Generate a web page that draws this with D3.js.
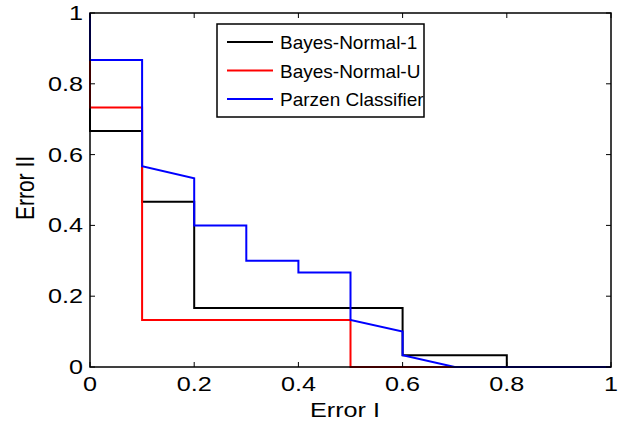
<!DOCTYPE html>
<html><head><meta charset="utf-8">
<script src="https://cdn.jsdelivr.net/npm/d3@7"></script>
<style>body{margin:0;background:#fff;} svg{display:block;font-family:"Liberation Sans",Arial,sans-serif;}</style>
</head><body>
<svg id="c" width="624" height="426"></svg>
<script>
const seriesNames = ["Bayes-Normal-1", "Bayes-Normal-U", "Parzen Classifier"];
const seriesColors = ["#000000", "#ff0000", "#0000ff"];
const bn1X = [0, 0, 0.1, 0.1, 0.2, 0.2, 0.6, 0.6, 0.8, 0.8, 1];
const bn1Y = [1, 0.667, 0.667, 0.467, 0.467, 0.167, 0.167, 0.033, 0.033, 0, 0];
const bnuX = [0, 0, 0, 0.1, 0.1, 0.5, 0.5, 1];
const bnuY = [1, 0.867, 0.733, 0.733, 0.133, 0.133, 0, 0];
const parX = [0, 0, 0.1, 0.1, 0.2, 0.2, 0.3, 0.3, 0.4, 0.4, 0.5, 0.5, 0.6, 0.6, 0.7, 1];
const parY = [1, 0.867, 0.867, 0.567, 0.533, 0.4, 0.4, 0.3, 0.3, 0.267, 0.267, 0.133, 0.1, 0.033, 0, 0];
const xTicks = [0, 0.2, 0.4, 0.6, 0.8, 1];
const yTicks = [0, 0.2, 0.4, 0.6, 0.8, 1];
const xTickLabels = ["0", "0.2", "0.4", "0.6", "0.8", "1"];
const yTickLabels = ["0", "0.2", "0.4", "0.6", "0.8", "1"];

const L = 90, R = 611, T = 13, B = 367;
const svg = d3.select("#c");
const x = d3.scaleLinear().domain([0, 1]).range([L, R]);
const y = d3.scaleLinear().domain([0, 1]).range([B, T]);

const series = [
  {xs: bn1X, ys: bn1Y},
  {xs: bnuX, ys: bnuY},
  {xs: parX, ys: parY}
];
const line = d3.line().x(d => x(d[0])).y(d => y(d[1]));
series.forEach((s, i) => {
  const pts = s.xs.map((v, j) => [v, s.ys[j]]);
  svg.append("path").attr("d", line(pts)).attr("fill", "none")
    .attr("stroke", seriesColors[i]).attr("stroke-width", 2);
});

// axes box
svg.append("rect").attr("x", L).attr("y", T).attr("width", R - L).attr("height", B - T)
  .attr("fill", "none").attr("stroke", "#000").attr("stroke-width", 1.5);

// ticks (inward, mirrored)
const tl = 5;
xTicks.forEach(t => {
  svg.append("line").attr("x1", x(t)).attr("x2", x(t)).attr("y1", B).attr("y2", B - tl).attr("stroke", "#000");
  svg.append("line").attr("x1", x(t)).attr("x2", x(t)).attr("y1", T).attr("y2", T + tl).attr("stroke", "#000");
});
yTicks.forEach(t => {
  svg.append("line").attr("y1", y(t)).attr("y2", y(t)).attr("x1", L).attr("x2", L + tl).attr("stroke", "#000");
  svg.append("line").attr("y1", y(t)).attr("y2", y(t)).attr("x1", R).attr("x2", R - tl).attr("stroke", "#000");
});

const sx = 1.2;
xTicks.forEach((t, i) => {
  svg.append("text").attr("transform", `translate(${x(t)},${B + 24}) scale(${sx},1)`)
    .attr("text-anchor", "middle").attr("font-size", 21).text(xTickLabels[i]);
});
yTicks.forEach((t, i) => {
  svg.append("text").attr("transform", `translate(${L - 7},${y(t) + 7}) scale(${sx},1)`)
    .attr("text-anchor", "end").attr("font-size", 21).text(yTickLabels[i]);
});

svg.append("text").attr("transform", `translate(345,417) scale(${sx},1)`)
  .attr("text-anchor", "middle").attr("font-size", 21).text("Error I");
svg.append("text").attr("transform", `translate(34,188) rotate(-90) scale(1,${sx})`)
  .attr("text-anchor", "middle").attr("font-size", 21).text("Error II");

// legend
const lg = svg.append("g");
lg.append("rect").attr("x", 217).attr("y", 24).attr("width", 207).attr("height", 93)
  .attr("fill", "#fff").attr("stroke", "#000").attr("stroke-width", 1.5);
const rowsY = [42, 70.5, 99];
seriesNames.forEach((n, i) => {
  lg.append("line").attr("x1", 227).attr("x2", 273).attr("y1", rowsY[i]).attr("y2", rowsY[i])
    .attr("stroke", seriesColors[i]).attr("stroke-width", 2);
  lg.append("text").attr("transform", `translate(280,${rowsY[i] + 7})`)
    .attr("font-size", 19).text(n);
});
</script>
</body></html>
